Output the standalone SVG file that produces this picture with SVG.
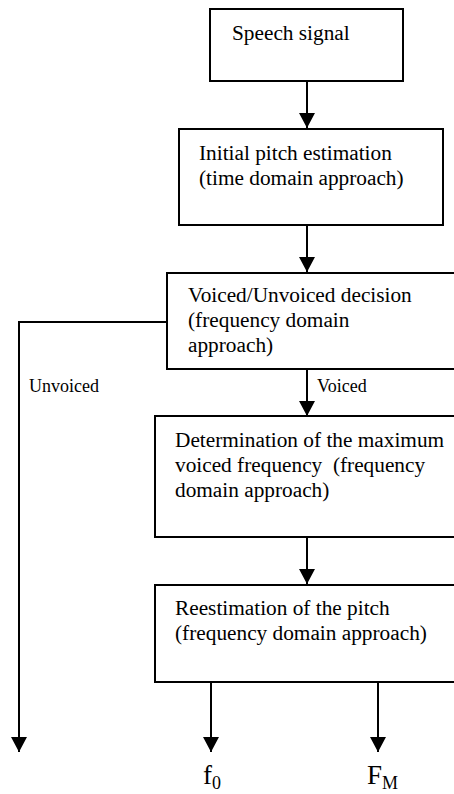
<svg xmlns="http://www.w3.org/2000/svg" width="454" height="794" viewBox="0 0 454 794">
<style>
.box{fill:#fff;stroke:#000;stroke-width:2}
.t{font-family:"Liberation Serif","Times New Roman",serif;font-size:21.3px;fill:#000}
.s{font-family:"Liberation Serif","Times New Roman",serif;font-size:18px;fill:#000}
.o{font-family:"Liberation Serif","Times New Roman",serif;font-size:27px;fill:#000}
.c{fill:none;stroke:#000;stroke-width:2}
</style>
<defs>
<marker id="ah" markerUnits="userSpaceOnUse" markerWidth="16" markerHeight="16" viewBox="0 0 16 16" refX="15" refY="8" orient="auto">
<path d="M0,0 L15,8 L0,16 Z" fill="#000"/>
</marker>
</defs>
<rect width="454" height="794" fill="#fff"/>
<g id="connectors">
<line class="c" x1="307" y1="81" x2="307" y2="128" marker-end="url(#ah)"/>
<line class="c" x1="307" y1="225" x2="307" y2="272" marker-end="url(#ah)"/>
<line class="c" x1="307" y1="369" x2="307" y2="416" marker-end="url(#ah)"/>
<line class="c" x1="307" y1="537" x2="307" y2="584" marker-end="url(#ah)"/>
<polyline class="c" points="167,322 19,322 19,752" marker-end="url(#ah)"/>
<line class="c" x1="211" y1="682" x2="211" y2="752" marker-end="url(#ah)"/>
<line class="c" x1="378" y1="682" x2="378" y2="752" marker-end="url(#ah)"/>
<text class="s" x="29" y="392">Unvoiced</text>
<text class="s" x="317" y="392">Voiced</text>
</g>
<g id="speech">
<rect class="box" x="210" y="9" width="193" height="72"/>
<text class="t" x="232" y="40">Speech signal</text>
</g>
<g id="initial">
<rect class="box" x="179" y="129" width="264" height="96"/>
<text class="t" x="199" y="160">Initial pitch estimation</text>
<text class="t" x="199" y="185">(time domain approach)</text>
</g>
<g id="vuv">
<rect class="box" x="167" y="273" width="300" height="96"/>
<text class="t" x="188" y="302">Voiced/Unvoiced decision</text>
<text class="t" x="188" y="327">(frequency domain</text>
<text class="t" x="188" y="352">approach)</text>
</g>
<g id="maxfreq">
<rect class="box" x="155" y="416" width="312" height="121"/>
<text class="t" x="175" y="447">Determination of the maximum</text>
<text class="t" x="175" y="472" xml:space="preserve">voiced frequency  (frequency</text>
<text class="t" x="175" y="497">domain approach)</text>
</g>
<g id="reest">
<rect class="box" x="155" y="585" width="312" height="97"/>
<text class="t" x="175" y="615">Reestimation of the pitch</text>
<text class="t" x="175" y="640">(frequency domain approach)</text>
</g>
<g id="outputs">
<text class="o" x="203" y="784">f<tspan font-size="18" dy="5">0</tspan></text>
<text class="o" x="367" y="784">F<tspan font-size="18" dy="5">M</tspan></text>
</g>
</svg>
